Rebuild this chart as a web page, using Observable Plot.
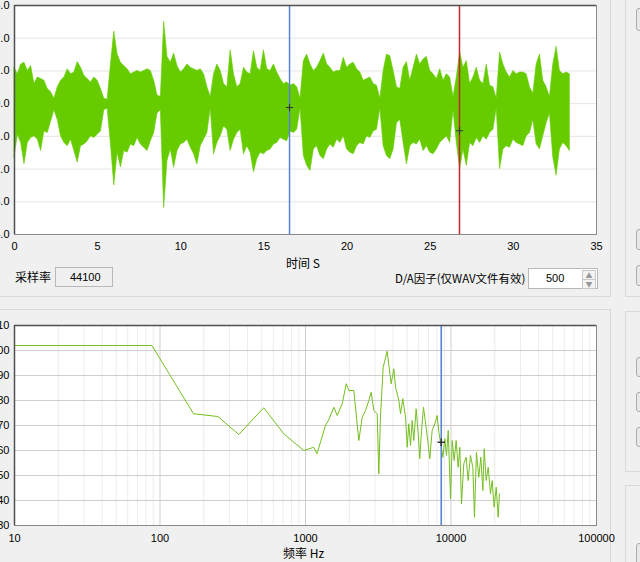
<!DOCTYPE html>
<html><head><meta charset="utf-8">
<script src="https://cdn.jsdelivr.net/npm/d3@7"></script>
<script src="https://cdn.jsdelivr.net/npm/@observablehq/plot@0.6"></script>
<style>
html,body{margin:0;padding:0;}
body{width:640px;height:562px;background:#f0f0f0;position:relative;overflow:hidden;font-family:"Noto Sans CJK SC","Liberation Sans",sans-serif;color:#000;}
.a{position:absolute;}
.panel{position:absolute;box-sizing:border-box;border:1px solid #d9d9d9;}
.btn{position:absolute;box-sizing:border-box;border:1px solid #adadad;border-radius:3px;background:#e8e8e8;width:14px;}
.lbl{position:absolute;font-size:12px;line-height:14px;white-space:nowrap;}
.box{position:absolute;box-sizing:border-box;border:1px solid #b8b8b8;font-family:"Liberation Sans",sans-serif;font-size:11px;line-height:13px;}
</style></head>
<body>
<div class="panel" style="left:-2px;top:-2px;width:613px;height:299px;"></div>
<div class="panel" style="left:-2px;top:309px;width:613px;height:260px;"></div>
<div class="panel" style="left:625px;top:-2px;width:30px;height:299px;"></div>
<div class="panel" style="left:625px;top:311px;width:30px;height:161px;"></div>
<div class="panel" style="left:625px;top:485px;width:30px;height:90px;"></div>
<div class="btn" style="left:636px;top:8px;height:23px;"></div>
<div class="btn" style="left:636px;top:229px;height:21px;"></div>
<div class="btn" style="left:636px;top:265px;height:21px;"></div>
<div class="btn" style="left:636px;top:357px;height:20px;"></div>
<div class="btn" style="left:636px;top:392px;height:20px;"></div>
<div class="btn" style="left:636px;top:427px;height:20px;"></div>
<div class="btn" style="left:636px;top:543px;height:22px;"></div>

<div id="wave" class="a" style="left:-26px;top:0;"></div>
<div id="spec" class="a" style="left:-26px;top:310px;"></div>

<div class="lbl" style="left:286px;top:256px;">时间 S</div>
<div class="lbl" style="left:15px;top:270px;">采样率</div>
<div class="box" id="srate" style="left:55px;top:267px;width:58px;height:20px;padding:3px 0 0 14px;"></div>
<div class="lbl" style="left:395px;top:271px;font-size:11.5px;">D/A因子(仅WAV文件有效)</div>
<div class="box" id="da" style="left:528px;top:268px;width:70px;height:21px;background:#fff;padding:3px 0 0 17px;"></div>
<div class="a" style="left:582px;top:270px;width:12px;height:8px;border:1px solid #c8c8c8;background:#f4f4f4;font-size:7px;line-height:8px;text-align:center;color:#999;">▲</div>
<div class="a" style="left:582px;top:279px;width:12px;height:8px;border:1px solid #c8c8c8;background:#f4f4f4;font-size:7px;line-height:8px;text-align:center;color:#999;">▼</div>
<div class="lbl" style="left:283px;top:546px;">频率 Hz</div>

<script>
// ---------- waveform (envelope, one sample every 0.2 s) ----------
const waveStart = 0;
const waveStep = 0.2;
const waveHi = [
  1.1,0.9,1.2,1.25,1.0,
  1.15,0.6,0.8,0.75,0.7,
  0.45,0.35,0.15,0.5,0.7,
  0.8,1.05,0.9,0.95,1.27,
  1.1,0.85,0.75,0.65,0.8,
  0.7,0.45,0.15,0.12,1.2,
  2.2,1.5,1.25,1.15,1.05,
  0.9,0.95,1.0,0.95,1.0,
  1.05,1.0,0.7,0.25,0.2,
  2.5,1.43,1.25,1.53,1.15,
  0.95,1.05,1.2,1.1,1.05,
  1.0,1.05,0.9,0.5,0.2,
  0.9,1.2,1.0,0.6,0.5,
  1.63,0.9,0.5,0.6,1.1,
  0.95,0.9,1.6,1.1,1.0,
  1.63,1.05,1.0,1.2,0.95,
  0.75,0.6,0.65,0.55,0.6,
  0.5,0.15,1.3,1.5,1.2,
  1.0,1.1,1.3,1.53,1.2,
  1.1,0.95,1.0,1.0,1.4,
  1.1,1.2,1.25,1.05,0.95,
  0.7,0.75,0.8,0.6,0.55,
  0.15,1.0,1.5,1.45,1.0,
  0.5,0.45,1.1,1.27,0.7,
  1.1,1.5,1.2,1.35,1.43,
  1.0,0.9,0.75,1.05,0.7,
  0.9,0.8,0.2,0.8,1.56,
  1.1,1.3,0.6,0.8,1.1,
  0.7,0.6,1.2,0.55,0.5,
  0.15,1.56,1.2,0.95,0.8,
  1.0,0.9,0.95,0.95,0.9,
  0.5,0.3,1.2,1.5,0.7,
  0.5,0.2,1.2,1.74,1.0,
  0.9,0.95,0.9
];
const waveLo = [
  -1.65,-0.95,-1.2,-1.85,-1.2,
  -1.05,-1.0,-1.1,-1.45,-0.85,
  -0.9,-0.55,-0.2,-0.5,-1.0,
  -1.2,-1.3,-1.1,-1.45,-1.8,
  -1.3,-1.25,-1.15,-1.0,-1.05,
  -0.95,-0.85,-0.2,-0.15,-1.25,
  -2.5,-1.5,-1.95,-1.45,-1.5,
  -1.25,-1.3,-1.05,-1.25,-1.35,
  -1.45,-1.15,-0.9,-0.3,-0.2,
  -3.19,-1.75,-1.4,-1.96,-1.45,
  -1.25,-1.2,-1.1,-1.35,-1.55,
  -1.86,-1.3,-1.1,-0.9,-0.15,
  -1.55,-1.2,-1.0,-0.7,-0.8,
  -1.45,-1.1,-0.9,-0.8,-1.55,
  -1.3,-1.5,-2.1,-1.7,-1.5,
  -1.55,-1.45,-1.4,-1.25,-1.2,
  -1.05,-1.1,-1.15,-0.85,-0.9,
  -0.8,-0.15,-1.6,-1.9,-2.06,
  -1.4,-1.3,-1.6,-1.7,-1.4,
  -1.25,-1.35,-1.1,-1.2,-1.0,
  -1.4,-1.5,-1.55,-1.3,-1.2,
  -1.25,-1.0,-1.05,-0.85,-0.8,
  -0.15,-1.3,-1.6,-1.7,-1.4,
  -0.6,-0.5,-1.2,-1.86,-1.3,
  -1.2,-1.25,-1.1,-1.45,-1.3,
  -1.5,-1.55,-1.4,-1.2,-1.1,
  -1.0,-1.2,-0.2,-1.2,-2.0,
  -1.4,-1.9,-1.2,-1.3,-1.05,
  -1.2,-1.0,-1.1,-0.9,-0.8,
  -0.15,-2.0,-1.4,-1.3,-1.35,
  -1.1,-1.2,-1.25,-1.3,-1.0,
  -0.9,-0.5,-1.24,-1.4,-1.0,
  -0.6,-0.3,-1.65,-2.2,-1.4,
  -1.2,-1.3,-1.45
];
const timeTicks = [0,5,10,15,20,25,30,35];
const ampTicks = [-4,-3,-2,-1,0,1,2,3];
const timeCursors = [16.54, 26.76];
const timeCursorColors = ["#5583d4", "#c2272d"];
const timeCursorVals = [-0.12, -0.83];

// ---------- spectrum ----------
const specF = [10,88,170,250,348,516,709,973,1140,1200,1371,1445,1566,1652,1788,1905,1986,2148,2326,2453,
  2584,2725,2827,2950,3110,3190,3273,3418,3640,3880,4045,4160,4380,4500,4665,4870,5000,5130,5270,5410,
  5550,5760,5950,6100,6270,6470,6750,6960,7150,7420,7740,8040,8250,8470,8790,9070,9310,9570,9930,10190,
  10510,10850,11200,11500,11810,12240,12710,13120,13610,14120,14500,14960,15520,16030,16560,16910,17450,18020,18680,19180,
  19800,20450,21100,21530];
const specDb = [102,102,74.7,73.6,66.4,77.1,66.7,60,61.3,58.7,70,72.3,77.3,74,78.7,86.7,84,84,64,73.3,
  76,80,83.3,76,74.7,50.7,73.3,93.3,99.7,86.7,92.7,85.3,80,74.7,80.7,73.3,61.3,70.7,62,72,
  64,76.7,66.7,56.7,68,77.3,69.3,62.7,56.7,68,70.7,74,67.3,63.3,57.3,64.7,58,68,40.7,64,
  56,64,53.3,61.3,38.7,54.7,57.3,48,58,53.3,33.3,59.3,49.3,57.3,44,60.7,48,53.3,42.7,48,
  37.3,45.3,33.3,42.7];
const freqMajor = [10,100,1000,10000,100000];
const freqMinorMult = [2,3,4,5,6,7,8,9];
const dbTicks = [30,40,50,60,70,80,90,100,110];
const freqCursor = 8570;
const freqCursorVal = 63.3;

const sampleRate = "44100";
const daFactor = "500";

document.getElementById("srate").textContent = sampleRate;
document.getElementById("da").textContent = daFactor;

const tickFont = {fontFamily: "'Liberation Sans', sans-serif", fontSize: "11px", color: "#000", background: "transparent", overflow: "visible", maxWidth: "none"};

const wave = waveHi.map((h, i) => ({t: waveStart + i * waveStep, hi: h, lo: waveLo[i]}));
const cursorsT = timeCursors.map((t, i) => ({t, c: timeCursorColors[i], v: timeCursorVals[i]}));

const p1 = Plot.plot({
  width: 632, height: 270,
  marginLeft: 40, marginRight: 10, marginTop: 5, marginBottom: 36,
  style: tickFont,
  x: {domain: [0, 35], ticks: timeTicks, tickSize: 0, tickPadding: 8, label: null},
  y: {domain: [-4, 3], ticks: ampTicks, tickFormat: d3.format(".1f"), tickSize: 0, tickPadding: 5, label: null},
  marks: [
    Plot.frame({fill: "white", stroke: null}),
    Plot.gridY(ampTicks, {stroke: "#e6e6e6", strokeOpacity: 1}),
    Plot.areaY(wave, {x: "t", y1: "lo", y2: "hi", fill: "#66cc00", stroke: "#66cc00", strokeWidth: 0.6, curve: "linear"}),
    Plot.ruleX(cursorsT, {x: "t", stroke: "c", strokeWidth: 1.5}),
    Plot.dot(cursorsT, {x: "t", y: "v", symbol: "plus", r: 2.5, stroke: "#333", strokeWidth: 1}),
    Plot.frame({stroke: "#8a8a8a"}),
    Plot.ruleX([0], {stroke: "#505050", strokeWidth: 1.5}),
    Plot.ruleY([3], {stroke: "#505050", strokeWidth: 1.5})
  ]
});
document.getElementById("wave").appendChild(p1);

const spec = specF.map((f, i) => ({f, db: specDb[i]}));
const freqMinor = freqMajor.slice(0, -1).flatMap(m => freqMinorMult.map(k => k * m));

const p2 = Plot.plot({
  width: 632, height: 252,
  marginLeft: 40, marginRight: 10, marginTop: 15, marginBottom: 37,
  style: tickFont,
  x: {type: "log", domain: [10, 100000], ticks: freqMajor, tickFormat: d => String(d), tickSize: 0, tickPadding: 9, label: null},
  y: {domain: [30, 110], ticks: dbTicks, tickSize: 0, tickPadding: 5, label: null},
  marks: [
    Plot.frame({fill: "white", stroke: null}),
    Plot.ruleX(freqMinor, {stroke: "#ececec"}),
    Plot.ruleX(freqMajor, {stroke: "#cfcfcf"}),
    Plot.ruleY(dbTicks, {stroke: "#cfcfcf"}),
    Plot.line(spec, {x: "f", y: "db", stroke: "#74bf1f", strokeWidth: 1}),
    Plot.ruleX([freqCursor], {stroke: "#5583d4", strokeWidth: 1.6}),
    Plot.dot([{f: freqCursor, v: freqCursorVal}], {x: "f", y: "v", symbol: "plus", r: 2.5, stroke: "#333"}),
    Plot.frame({stroke: "#8a8a8a"}),
    Plot.ruleX([10], {stroke: "#505050", strokeWidth: 1.5}),
    Plot.ruleY([110], {stroke: "#505050", strokeWidth: 1.5})
  ]
});
document.getElementById("spec").appendChild(p2);
</script>
</body></html>
